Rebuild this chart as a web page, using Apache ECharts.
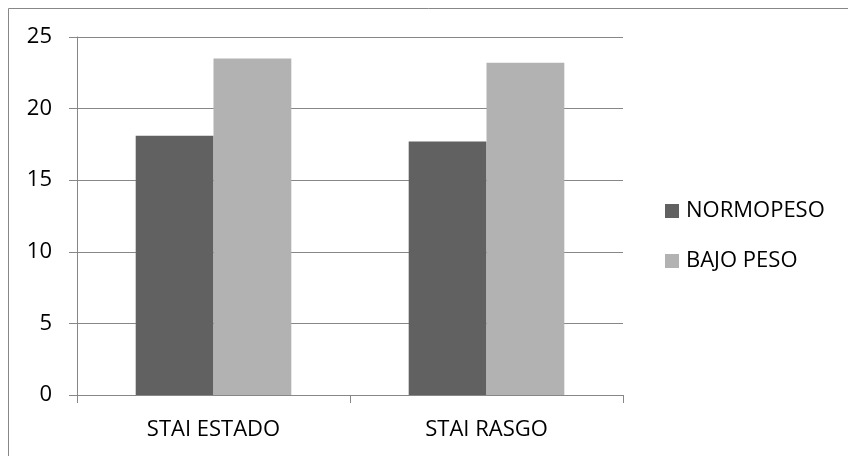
<!DOCTYPE html>
<html>
<head>
<meta charset="utf-8">
<script src="https://cdn.jsdelivr.net/npm/echarts@6/dist/echarts.min.js"></script>
<style>
  html, body { margin: 0; padding: 0; background: #fff; }
  #chart { width: 848px; height: 456px; }
</style>
</head>
<body>
<div id="chart"></div>
<script>
// STAI scores by weight group
const categories = ['STAI ESTADO', 'STAI RASGO'];
const seriesNames = ['NORMOPESO', 'BAJO PESO'];
const normopeso = [18.1, 17.7];
const bajoPeso = [23.5, 23.2];
const yTicks = { min: 0, max: 25, interval: 5 };

const FONT = '"Open Sans", "Liberation Sans", sans-serif';
const FONT_SIZE = 22;
const AXIS_GREY = '#878787';

const chart = echarts.init(document.getElementById('chart'), null, { renderer: 'canvas' });

chart.setOption({
  animation: false,
  backgroundColor: '#ffffff',
  textStyle: { fontFamily: FONT },
  graphic: [{
    type: 'rect',
    silent: true,
    shape: { x: 8.5, y: 8.5, width: 900, height: 500 },
    style: { fill: 'none', stroke: AXIS_GREY, lineWidth: 1 }
  }],
  grid: { left: 77, right: 225, top: 37, bottom: 61 },
  legend: {
    orient: 'vertical',
    left: 665,
    top: 200,
    padding: 0,
    itemWidth: 14,
    itemHeight: 14,
    itemGap: 28,
    icon: 'rect',
    data: seriesNames,
    textStyle: {
      fontFamily: FONT,
      fontSize: FONT_SIZE,
      lineHeight: 22,
      color: '#000',
      padding: [0, 0, 0, 2]
    }
  },
  xAxis: {
    type: 'category',
    data: categories,
    axisLine: { lineStyle: { color: AXIS_GREY, width: 1 } },
    axisTick: { show: true, length: 8, alignWithLabel: false, lineStyle: { color: AXIS_GREY } },
    axisLabel: { fontFamily: FONT, fontSize: FONT_SIZE, color: '#000', margin: 24 },
    splitLine: { show: false }
  },
  yAxis: {
    type: 'value',
    min: yTicks.min,
    max: yTicks.max,
    interval: yTicks.interval,
    axisLine: { show: true, lineStyle: { color: AXIS_GREY, width: 1 } },
    axisTick: { show: true, length: 8, lineStyle: { color: AXIS_GREY } },
    axisLabel: { fontFamily: FONT, fontSize: FONT_SIZE, color: '#000', margin: 25 },
    splitLine: { show: true, lineStyle: { color: AXIS_GREY, width: 1 } }
  },
  series: [
    {
      name: seriesNames[0],
      type: 'bar',
      data: normopeso,
      barGap: '0%',
      barCategoryGap: '43%',
      itemStyle: { color: '#616161' }
    },
    {
      name: seriesNames[1],
      type: 'bar',
      data: bajoPeso,
      barGap: '0%',
      barCategoryGap: '43%',
      itemStyle: { color: '#b2b2b2' }
    }
  ]
});
</script>
</body>
</html>
